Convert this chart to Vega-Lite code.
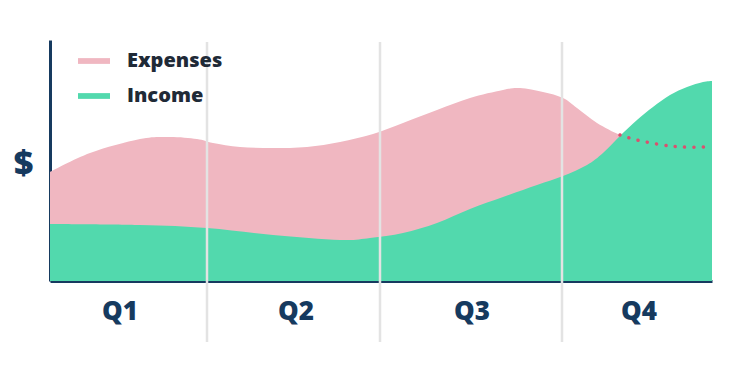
{
  "$schema": "https://vega.github.io/schema/vega-lite/v6.json",
  "width": 662,
  "height": 241,
  "autosize": {"type": "none"},
  "padding": {"left": 50, "top": 40, "right": 38, "bottom": 88},
  "background": "white",
  "config": {"view": {"stroke": null}, "font": "Open Sans"},
  "datasets": {
    "series": [
      {"x": 0, "y": 109, "series": "Expenses"},
      {"x": 40, "y": 128, "series": "Expenses"},
      {"x": 90, "y": 142, "series": "Expenses"},
      {"x": 120, "y": 144, "series": "Expenses"},
      {"x": 147, "y": 142, "series": "Expenses"},
      {"x": 163, "y": 138, "series": "Expenses"},
      {"x": 190, "y": 134, "series": "Expenses"},
      {"x": 223, "y": 133, "series": "Expenses"},
      {"x": 257, "y": 134, "series": "Expenses"},
      {"x": 290, "y": 139, "series": "Expenses"},
      {"x": 323, "y": 147, "series": "Expenses"},
      {"x": 353, "y": 158, "series": "Expenses"},
      {"x": 387, "y": 171, "series": "Expenses"},
      {"x": 420, "y": 183, "series": "Expenses"},
      {"x": 453, "y": 191, "series": "Expenses"},
      {"x": 470, "y": 193, "series": "Expenses"},
      {"x": 493, "y": 189, "series": "Expenses"},
      {"x": 513, "y": 183, "series": "Expenses"},
      {"x": 527, "y": 173, "series": "Expenses"},
      {"x": 547, "y": 158, "series": "Expenses"},
      {"x": 570, "y": 146, "series": "Expenses"},
      {"x": 587, "y": 141, "series": "Expenses"},
      {"x": 613, "y": 136, "series": "Expenses"},
      {"x": 633, "y": 134, "series": "Expenses"},
      {"x": 653, "y": 134, "series": "Expenses"},
      {"x": 662, "y": 135, "series": "Expenses"},
      {"x": 0, "y": 57, "series": "Income"},
      {"x": 90, "y": 56, "series": "Income"},
      {"x": 157, "y": 53, "series": "Income"},
      {"x": 223, "y": 46, "series": "Income"},
      {"x": 290, "y": 41, "series": "Income"},
      {"x": 320, "y": 43, "series": "Income"},
      {"x": 353, "y": 48, "series": "Income"},
      {"x": 387, "y": 58, "series": "Income"},
      {"x": 420, "y": 72, "series": "Income"},
      {"x": 453, "y": 84, "series": "Income"},
      {"x": 487, "y": 96, "series": "Income"},
      {"x": 513, "y": 105, "series": "Income"},
      {"x": 537, "y": 116, "series": "Income"},
      {"x": 553, "y": 128, "series": "Income"},
      {"x": 570, "y": 145, "series": "Income"},
      {"x": 587, "y": 161, "series": "Income"},
      {"x": 603, "y": 174, "series": "Income"},
      {"x": 620, "y": 186, "series": "Income"},
      {"x": 637, "y": 194, "series": "Income"},
      {"x": 653, "y": 199, "series": "Income"},
      {"x": 662, "y": 200, "series": "Income"}
    ],
    "projected": [
      {"x": 570, "y": 146},
      {"x": 587, "y": 141},
      {"x": 613, "y": 136},
      {"x": 633, "y": 134},
      {"x": 653, "y": 134},
      {"x": 662, "y": 135}
    ],
    "grid": [
      {"x": 157, "top": 239, "bottom": -61},
      {"x": 330, "top": 239, "bottom": -61},
      {"x": 512, "top": 239, "bottom": -61}
    ],
    "quarters": [
      {"x": 70, "y": -31, "label": "Q1"},
      {"x": 246, "y": -31, "label": "Q2"},
      {"x": 422, "y": -31, "label": "Q3"},
      {"x": 589, "y": -31, "label": "Q4"}
    ]
  },
  "layer": [
    {
      "data": {"name": "series"},
      "mark": {"type": "area", "interpolate": "cardinal", "opacity": 1},
      "encoding": {
        "x": {
          "field": "x", "type": "quantitative",
          "scale": {"domain": [0, 662], "nice": false, "zero": false},
          "axis": {"domainColor": "#163a5f", "domainWidth": 3, "ticks": false, "labels": false, "grid": false, "title": null}
        },
        "y": {
          "field": "y", "type": "quantitative", "stack": null,
          "scale": {"domain": [0, 241], "nice": false},
          "axis": {
            "domainColor": "#163a5f", "domainWidth": 3, "ticks": false, "labels": false, "grid": false,
            "title": "$", "titleAngle": 0, "titleX": -27, "titleY": 124, "titleAlign": "center", "titleBaseline": "middle",
            "titleFontSize": 34, "titleFontWeight": 800, "titleColor": "#163a5f", "titleFont": "Open Sans"
          }
        },
        "color": {
          "field": "series", "type": "nominal",
          "scale": {"domain": ["Expenses", "Income"], "range": ["#f0b7c1", "#52d9ad"]},
          "legend": {
            "title": null, "orient": "none", "legendX": 28, "legendY": 5, "padding": 0,
            "symbolType": "M-1,-0.18H1V0.18H-1Z", "symbolSize": 1024, "symbolStrokeWidth": 0, "symbolOpacity": 1,
            "labelFont": "Open Sans", "labelFontSize": 20, "labelFontWeight": 800, "labelColor": "#1f2a37",
            "labelOffset": 17, "rowPadding": 9
          }
        }
      }
    },
    {
      "data": {"name": "projected"},
      "mark": {"type": "line", "interpolate": "cardinal", "color": "#d9516f", "strokeWidth": 3.5, "strokeCap": "round", "strokeDash": [0.1, 9.3]},
      "encoding": {
        "x": {"field": "x", "type": "quantitative"},
        "y": {"field": "y", "type": "quantitative"}
      }
    },
    {
      "data": {"name": "grid"},
      "mark": {"type": "rule", "color": "#e3e3e3", "strokeWidth": 2.5},
      "encoding": {
        "x": {"field": "x", "type": "quantitative"},
        "y": {"field": "top", "type": "quantitative"},
        "y2": {"field": "bottom"}
      }
    },
    {
      "data": {"name": "quarters"},
      "mark": {"type": "text", "font": "Open Sans", "fontSize": 26, "fontWeight": 800, "color": "#163a5f", "baseline": "middle", "align": "center"},
      "encoding": {
        "x": {"field": "x", "type": "quantitative"},
        "y": {"field": "y", "type": "quantitative"},
        "text": {"field": "label"}
      }
    }
  ]
}
